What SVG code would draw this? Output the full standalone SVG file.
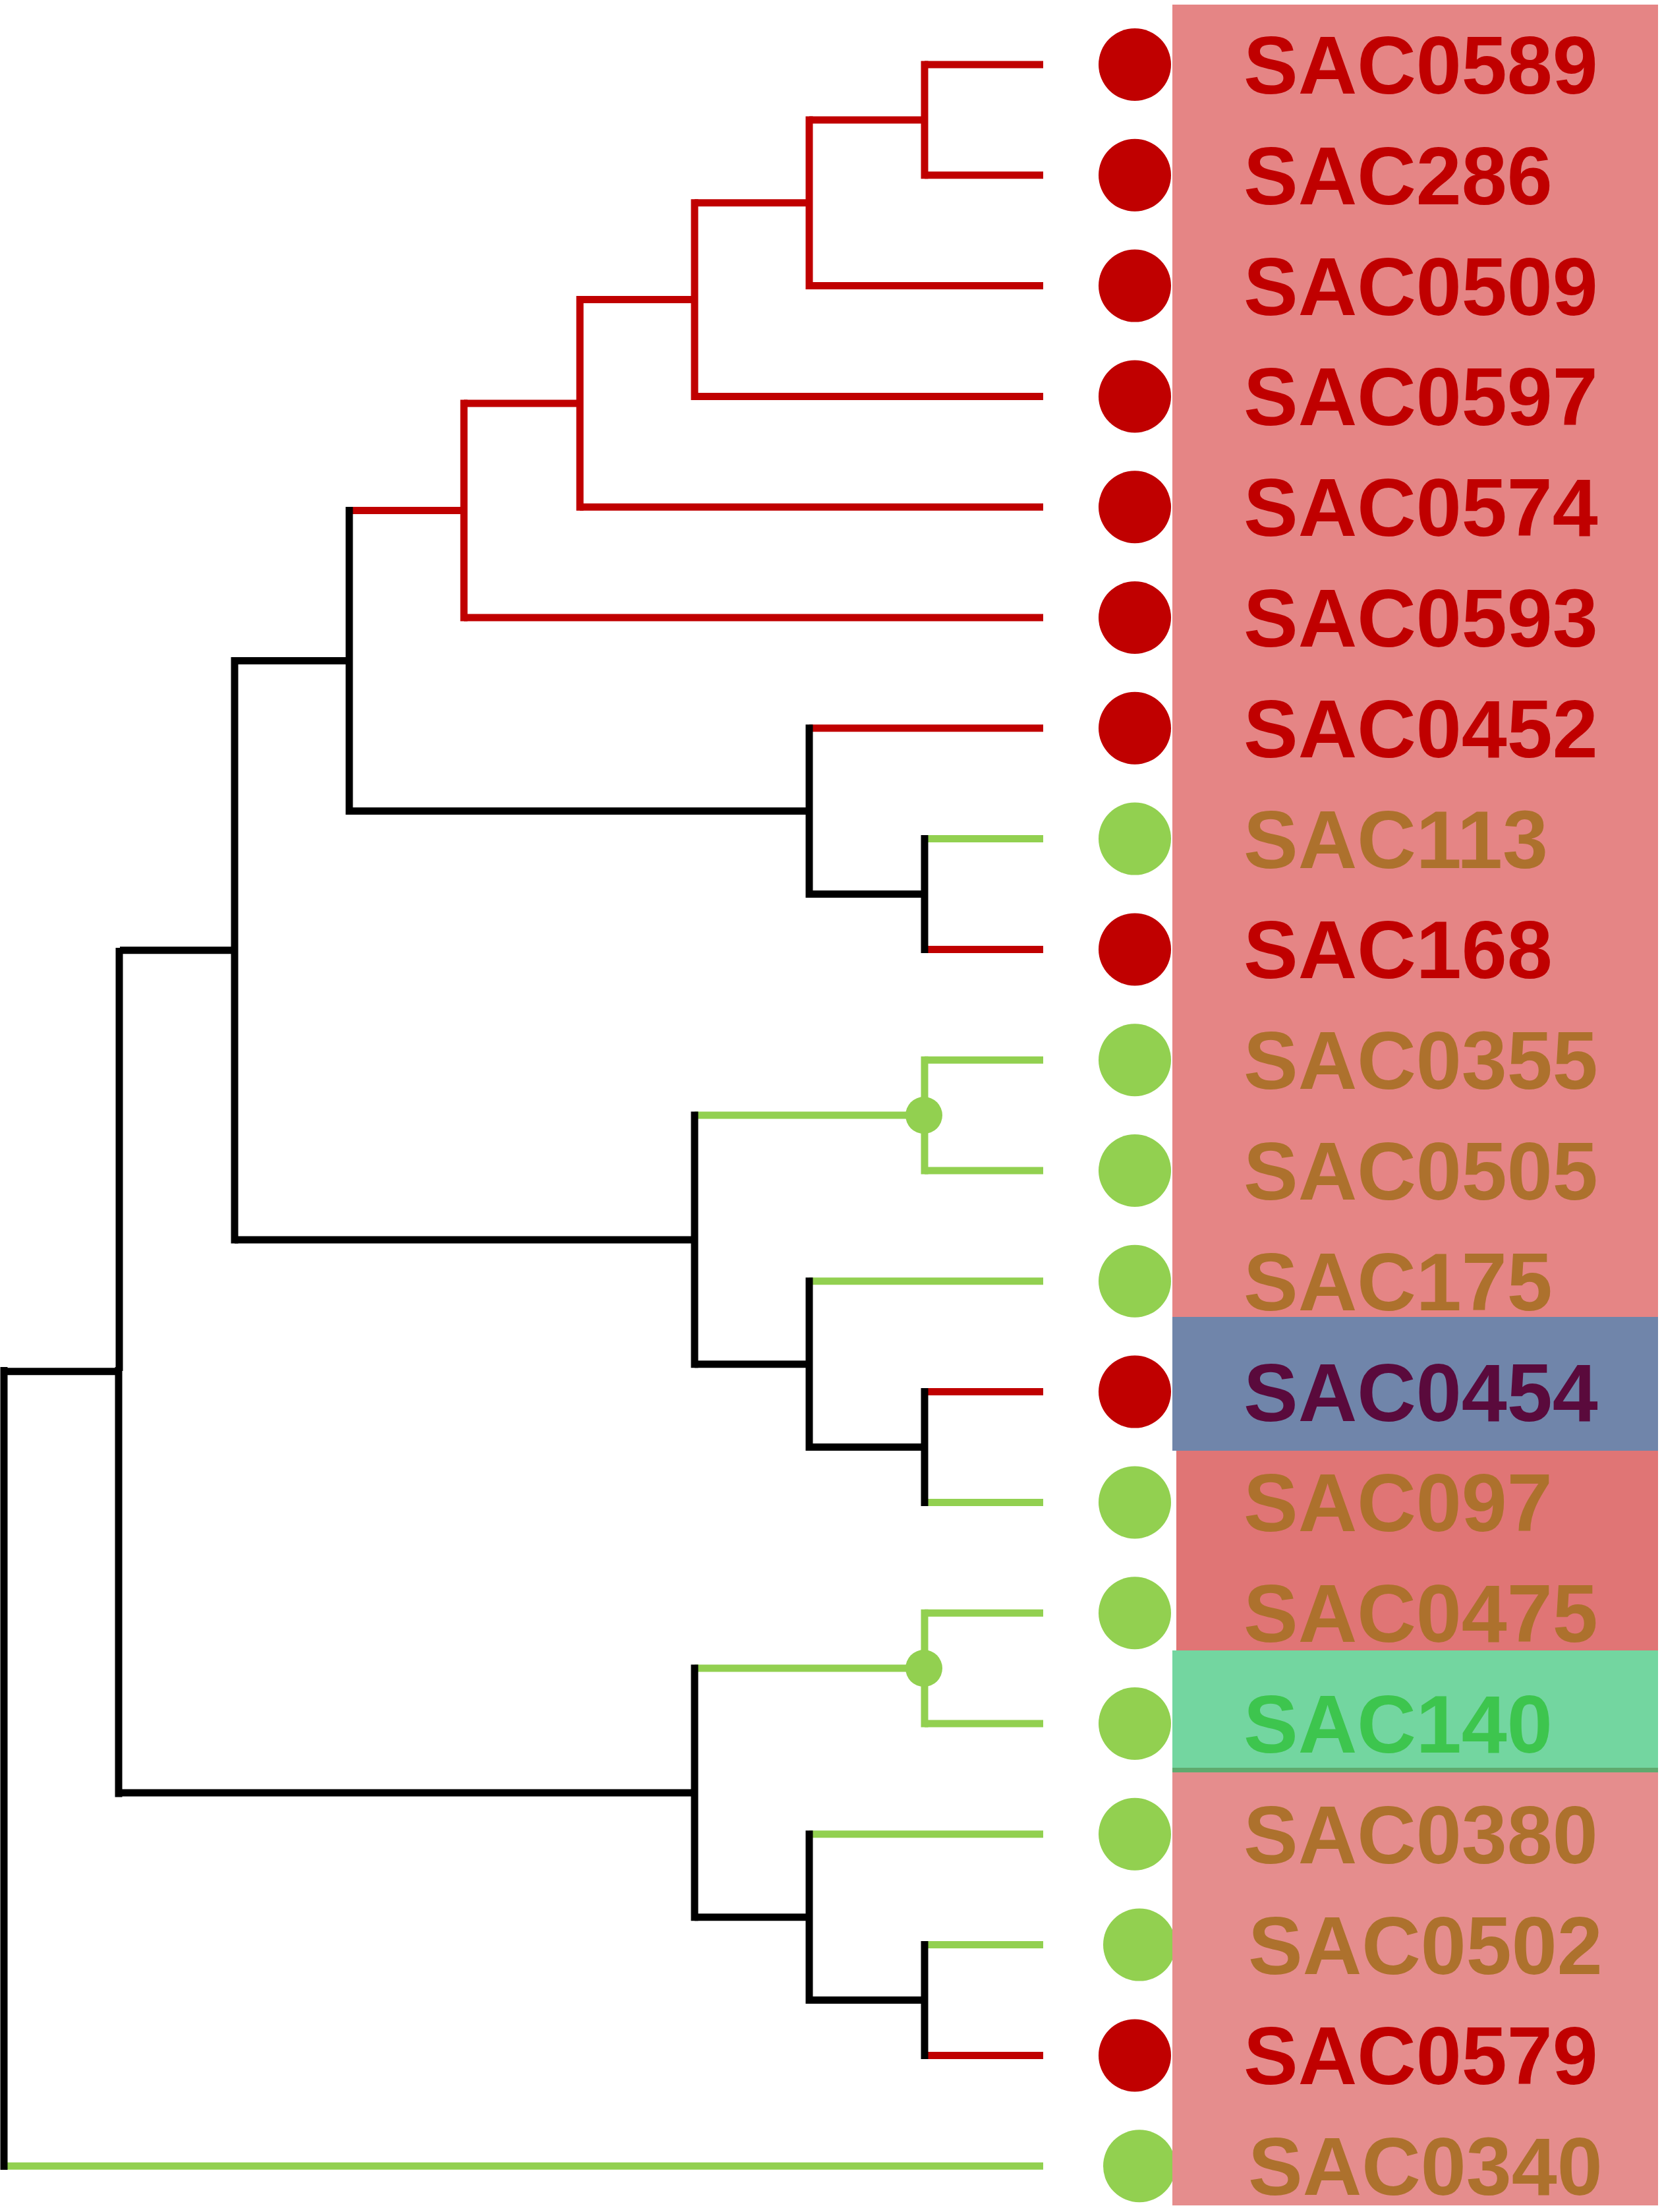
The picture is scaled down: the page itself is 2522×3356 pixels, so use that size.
<svg xmlns="http://www.w3.org/2000/svg" width="2522" height="3356" viewBox="0 0 2522 3356">
<style>
.r{stroke:#C00000;stroke-width:11;fill:none}
.g{stroke:#92D050;stroke-width:11;fill:none}
.k{stroke:#000;stroke-width:11;fill:none}
.dr{fill:#C00000}
.dg{fill:#92D050}
.lbl{font-family:"Liberation Sans",Arial,sans-serif;font-weight:bold;font-size:124px}
.tr{fill:#C00000}
.tb{fill:#AD712D}
</style>
<rect width="2522" height="3356" fill="#FFFFFF"/>
<g id="connectors">
<line class="r" x1="1403" y1="98" x2="1583" y2="98"/>
<line class="r" x1="1403" y1="265.8" x2="1583" y2="265.8"/>
<line class="r" x1="1228" y1="433.6" x2="1583" y2="433.6"/>
<line class="r" x1="1054" y1="601.4" x2="1583" y2="601.4"/>
<line class="r" x1="880" y1="769.2" x2="1583" y2="769.2"/>
<line class="r" x1="704" y1="937" x2="1583" y2="937"/>
<line class="r" x1="1228" y1="1104.8" x2="1583" y2="1104.8"/>
<line class="g" x1="1403" y1="1272.6" x2="1583" y2="1272.6"/>
<line class="r" x1="1403" y1="1440.4" x2="1583" y2="1440.4"/>
<line class="g" x1="1403" y1="1608.2" x2="1583" y2="1608.2"/>
<line class="g" x1="1403" y1="1776" x2="1583" y2="1776"/>
<line class="g" x1="1228" y1="1943.8" x2="1583" y2="1943.8"/>
<line class="r" x1="1403" y1="2111.6" x2="1583" y2="2111.6"/>
<line class="g" x1="1403" y1="2279.4" x2="1583" y2="2279.4"/>
<line class="g" x1="1403" y1="2447.2" x2="1583" y2="2447.2"/>
<line class="g" x1="1403" y1="2615" x2="1583" y2="2615"/>
<line class="g" x1="1228" y1="2782.8" x2="1583" y2="2782.8"/>
<line class="g" x1="1403" y1="2950.6" x2="1583" y2="2950.6"/>
<line class="r" x1="1403" y1="3118.4" x2="1583" y2="3118.4"/>
<line class="g" x1="6" y1="3286.2" x2="1583" y2="3286.2" stroke-width="13"/>
<line class="r" x1="1228" y1="181.9" x2="1403" y2="181.9"/>
<line class="r" x1="1054" y1="307.75" x2="1228" y2="307.75"/>
<line class="r" x1="880" y1="454.6" x2="1054" y2="454.6"/>
<line class="r" x1="704" y1="611.9" x2="880" y2="611.9"/>
<line class="r" x1="530" y1="774.5" x2="704" y2="774.5"/>
<line class="k" x1="530" y1="1230.6" x2="1228" y2="1230.6"/>
<line class="k" x1="1228" y1="1356.5" x2="1403" y2="1356.5"/>
<line class="k" x1="356" y1="1002.6" x2="530" y2="1002.6"/>
<line class="k" x1="356" y1="1880.9" x2="1054" y2="1880.9"/>
<line class="g" x1="1054" y1="1692.1" x2="1403" y2="1692.1"/>
<line class="k" x1="1054" y1="2069.7" x2="1228" y2="2069.7"/>
<line class="k" x1="1228" y1="2195.5" x2="1403" y2="2195.5"/>
<line class="k" x1="182" y1="1441.7" x2="356" y2="1441.7" stroke-width="8"/>
<line class="k" x1="182" y1="2719.9" x2="1054" y2="2719.9" stroke-width="13"/>
<line class="g" x1="1054" y1="2531.1" x2="1403" y2="2531.1"/>
<line class="k" x1="1054" y1="2908.7" x2="1228" y2="2908.7"/>
<line class="k" x1="1228" y1="3034.5" x2="1403" y2="3034.5"/>
<line class="k" x1="4" y1="2080.8" x2="182" y2="2080.8" stroke-width="13"/>
<line class="r" x1="1403" y1="92.5" x2="1403" y2="271.3"/>
<line class="r" x1="1228" y1="176.4" x2="1228" y2="439.1"/>
<line class="r" x1="1054" y1="302.25" x2="1054" y2="606.9"/>
<line class="r" x1="880" y1="449.1" x2="880" y2="774.7"/>
<line class="r" x1="704" y1="606.4" x2="704" y2="942.5"/>
<line class="k" x1="1403" y1="1267.1" x2="1403" y2="1445.9"/>
<line class="k" x1="1228" y1="1099.3" x2="1228" y2="1362"/>
<line class="k" x1="530" y1="769" x2="530" y2="1236.1"/>
<line class="g" x1="1403" y1="1602.7" x2="1403" y2="1781.5"/>
<line class="k" x1="1403" y1="2106.1" x2="1403" y2="2284.9"/>
<line class="k" x1="1228" y1="1938.3" x2="1228" y2="2201"/>
<line class="k" x1="1054" y1="1686.6" x2="1054" y2="2075.2"/>
<line class="k" x1="356" y1="997.1" x2="356" y2="1886.4"/>
<line class="g" x1="1403" y1="2441.7" x2="1403" y2="2620.5"/>
<line class="k" x1="1403" y1="2945.1" x2="1403" y2="3123.9"/>
<line class="k" x1="1228" y1="2777.3" x2="1228" y2="3040"/>
<line class="k" x1="1054" y1="2525.6" x2="1054" y2="2914.2"/>
<line class="k" x1="181" y1="1438" x2="181" y2="2080" stroke-width="4"/>
<line class="k" x1="180" y1="2074" x2="180" y2="2726.4" stroke-width="14"/>
<line class="k" x1="6" y1="2074" x2="6" y2="3292" stroke-width="4"/>
<circle class="dg" cx="1402" cy="1692.1" r="28"/>
<circle class="dg" cx="1402" cy="2531.1" r="28"/>
</g>
<g id="dots">
<circle class="dr" cx="1722" cy="98" r="55"/>
<circle class="dr" cx="1722" cy="265.8" r="55"/>
<circle class="dr" cx="1722" cy="433.6" r="55"/>
<circle class="dr" cx="1722" cy="601.4" r="55"/>
<circle class="dr" cx="1722" cy="769.2" r="55"/>
<circle class="dr" cx="1722" cy="937" r="55"/>
<circle class="dr" cx="1722" cy="1104.8" r="55"/>
<circle class="dg" cx="1722" cy="1272.6" r="55"/>
<circle class="dr" cx="1722" cy="1440.4" r="55"/>
<circle class="dg" cx="1722" cy="1608.2" r="55"/>
<circle class="dg" cx="1722" cy="1776" r="55"/>
<circle class="dg" cx="1722" cy="1943.8" r="55"/>
<circle class="dr" cx="1722" cy="2111.6" r="55"/>
<circle class="dg" cx="1722" cy="2279.4" r="55"/>
<circle class="dg" cx="1722" cy="2447.2" r="55"/>
<circle class="dg" cx="1722" cy="2615" r="55"/>
<circle class="dg" cx="1722" cy="2782.8" r="55"/>
<circle class="dg" cx="1729" cy="2950.6" r="55"/>
<circle class="dr" cx="1722" cy="3118.4" r="55"/>
<circle class="dg" cx="1729" cy="3286.2" r="55"/>
</g>
<g id="bands">
<rect x="1779" y="7" width="737" height="1991" fill="#E58585"/>
<rect x="1779" y="1998" width="737" height="203" fill="#7085AA"/>
<rect x="1785" y="2201" width="731" height="303" fill="#E07575"/>
<rect x="1779" y="2504" width="737" height="178" fill="#73D6A0"/>
<rect x="1779" y="2682" width="737" height="7" fill="#5FAA6E"/>
<rect x="1779" y="2689" width="737" height="657" fill="#E58D8D"/>
</g>
<g id="n-SAC0589"><text class="lbl tr" x="1887" y="142">SAC0589</text></g>
<g id="n-SAC286"><text class="lbl tr" x="1887" y="309.8">SAC286</text></g>
<g id="n-SAC0509"><text class="lbl tr" x="1887" y="477.6">SAC0509</text></g>
<g id="n-SAC0597"><text class="lbl tr" x="1887" y="645.4">SAC0597</text></g>
<g id="n-SAC0574"><text class="lbl tr" x="1887" y="813.2">SAC0574</text></g>
<g id="n-SAC0593"><text class="lbl tr" x="1887" y="981">SAC0593</text></g>
<g id="n-SAC0452"><text class="lbl tr" x="1887" y="1148.8">SAC0452</text></g>
<g id="n-SAC113"><text class="lbl tb" x="1887" y="1316.6">SAC113</text></g>
<g id="n-SAC168"><text class="lbl tr" x="1887" y="1484.4">SAC168</text></g>
<g id="n-SAC0355"><text class="lbl tb" x="1887" y="1652.2">SAC0355</text></g>
<g id="n-SAC0505"><text class="lbl tb" x="1887" y="1820">SAC0505</text></g>
<g id="n-SAC175"><text class="lbl tb" x="1887" y="1987.8">SAC175</text></g>
<g id="n-SAC0454"><text class="lbl" fill="#5A0A3C" x="1887" y="2155.6">SAC0454</text></g>
<g id="n-SAC097"><text class="lbl tb" x="1887" y="2323.4">SAC097</text></g>
<g id="n-SAC0475"><text class="lbl tb" x="1887" y="2491.2">SAC0475</text></g>
<g id="n-SAC140"><text class="lbl" fill="#3DC54E" x="1887" y="2659">SAC140</text></g>
<g id="n-SAC0380"><text class="lbl tb" x="1887" y="2826.8">SAC0380</text></g>
<g id="n-SAC0502"><text class="lbl tb" x="1894" y="2994.6">SAC0502</text></g>
<g id="n-SAC0579"><text class="lbl tr" x="1887" y="3162.4">SAC0579</text></g>
<g id="n-SAC0340"><text class="lbl tb" x="1894" y="3330.2">SAC0340</text></g>
</svg>
